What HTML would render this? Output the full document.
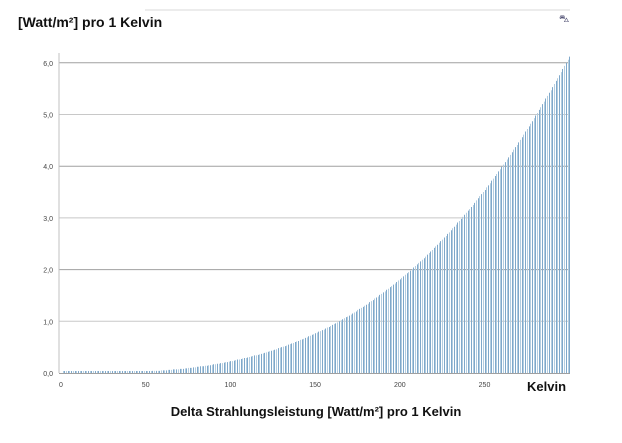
<!DOCTYPE html>
<html><head><meta charset="utf-8"><style>
body{margin:0;background:#fff;width:622px;height:443px;overflow:hidden;font-family:"Liberation Sans",sans-serif}
svg{display:block}
</style></head><body>
<svg id="chart" width="622" height="443">
<line x1="145" y1="10" x2="570" y2="10" stroke="#d8d8d8"/>
<text x="18" y="27" font-size="14" font-weight="bold" fill="#111">[Watt/m²] pro 1 Kelvin</text>
<text x="559" y="22" font-size="10" fill="#557">⛍</text>
<g id="grid"></g>
<g id="bars"></g>
<g id="axes"></g>
<text x="527" y="391" font-size="13" font-weight="bold" fill="#111">Kelvin</text>
<text x="316" y="416" font-size="13" font-weight="bold" fill="#111" text-anchor="middle">Delta Strahlungsleistung [Watt/m²] pro 1 Kelvin</text>
</svg>
<script>
const yTicks=[0,1,2,3,4,5,6];
const yTickLabels=["0,0","1,0","2,0","3,0","4,0","5,0","6,0"];
const xTicks=[0,50,100,150,200,250];
const kelvin=[];for(let i=1;i<=300;i++)kelvin.push(i);
const values=[0,0,0,0,0,0,0,0,0,0,0,0,0,0,0,0,0,0,0,0,0,0,0,0,0,0,0,0,0.01,0.01,0.01,0.01,0.01,0.01,0.01,0.01,0.01,0.01,0.01,0.01,
0.02,0.02,0.02,0.02,0.02,0.02,0.02,0.03,0.03,0.03,0.03,0.03,0.03,0.04,0.04,0.04,0.04,0.04,0.05,0.05,
0.05,0.05,0.06,0.06,0.06,0.07,0.07,0.07,0.07,0.08,0.08,0.08,0.09,0.09,0.10,0.10,0.10,0.11,0.11,0.12,
0.12,0.13,0.13,0.13,0.14,0.14,0.15,0.15,0.16,0.17,0.17,0.18,0.18,0.19,0.19,0.20,0.21,0.21,0.22,0.23,
0.23,0.24,0.25,0.26,0.26,0.27,0.28,0.29,0.29,0.30,0.31,0.32,0.33,0.34,0.34,0.35,0.36,0.37,0.38,0.39,
0.40,0.41,0.42,0.43,0.44,0.45,0.46,0.48,0.49,0.50,0.51,0.52,0.53,0.55,0.56,0.57,0.58,0.60,0.61,0.62,
0.64,0.65,0.66,0.68,0.69,0.71,0.72,0.74,0.75,0.77,0.78,0.80,0.81,0.83,0.84,0.86,0.88,0.89,0.91,0.93,
0.95,0.96,0.98,1.00,1.02,1.04,1.06,1.08,1.09,1.11,1.13,1.15,1.17,1.19,1.22,1.24,1.26,1.28,1.30,1.32,
1.34,1.37,1.39,1.41,1.44,1.46,1.48,1.51,1.53,1.56,1.58,1.61,1.63,1.66,1.68,1.71,1.73,1.76,1.79,1.81,
1.84,1.87,1.90,1.93,1.95,1.98,2.01,2.04,2.07,2.10,2.13,2.16,2.19,2.22,2.25,2.29,2.32,2.35,2.38,2.42,
2.45,2.48,2.52,2.55,2.58,2.62,2.65,2.69,2.72,2.76,2.80,2.83,2.87,2.91,2.94,2.98,3.02,3.06,3.10,3.14,
3.17,3.21,3.25,3.29,3.34,3.38,3.42,3.46,3.50,3.54,3.59,3.63,3.67,3.72,3.76,3.81,3.85,3.90,3.94,3.99,
4.03,4.08,4.13,4.17,4.22,4.27,4.32,4.37,4.41,4.46,4.51,4.56,4.61,4.67,4.72,4.77,4.82,4.87,4.93,4.98,
5.03,5.09,5.14,5.20,5.25,5.31,5.36,5.42,5.47,5.53,5.59,5.65,5.70,5.76,5.82,5.88,5.94,6.00,6.06,6.12];
const NS="http://www.w3.org/2000/svg";
const X0=61,XS=1.694,Y0=373,YS=51.7,PL=59,PR=570;
function xs(v){return X0+v*XS;}
function ys(v){return Y0-v*YS;}
function mk(t,a,p){const e=document.createElementNS(NS,t);for(const k in a)e.setAttribute(k,a[k]);p.appendChild(e);return e;}
const grid=document.getElementById('grid'),bars=document.getElementById('bars'),axes=document.getElementById('axes');
yTicks.forEach((v,i)=>{
  if(v>0){const l=mk('line',{x1:PL,x2:PR,y1:ys(v),y2:ys(v),stroke:i%2?'#c8c8c8':'#a0a0a0'},grid);
  
  }
  const t=mk('text',{x:53,y:ys(v)+3,'font-size':7,fill:'#444','text-anchor':'end'},axes);
  t.textContent=yTickLabels[i];
  
  
});
kelvin.forEach((k,i)=>{
  const x=Math.round(xs(k))+0.5;
  const top=Math.min(ys(values[i]),Y0-2);
  const b=mk('line',{x1:x,x2:x,y1:Y0,y2:top,stroke:i%2?'#7fa8ca':'#b3cde0','stroke-width':1},bars);
  
  
});
const ax=mk('line',{x1:PL,x2:PL,y1:53,y2:Y0,stroke:'#c0c0c0'},axes);


const bx=mk('line',{x1:PL,x2:PR,y1:Y0+0.5,y2:Y0+0.5,stroke:'#a0a0a0'},axes);


xTicks.forEach(v=>{
  const t=mk('text',{x:xs(v),y:387,'font-size':7,fill:'#444','text-anchor':'middle'},axes);
  t.textContent=String(v);
  
  
});
</script>
</body></html>
